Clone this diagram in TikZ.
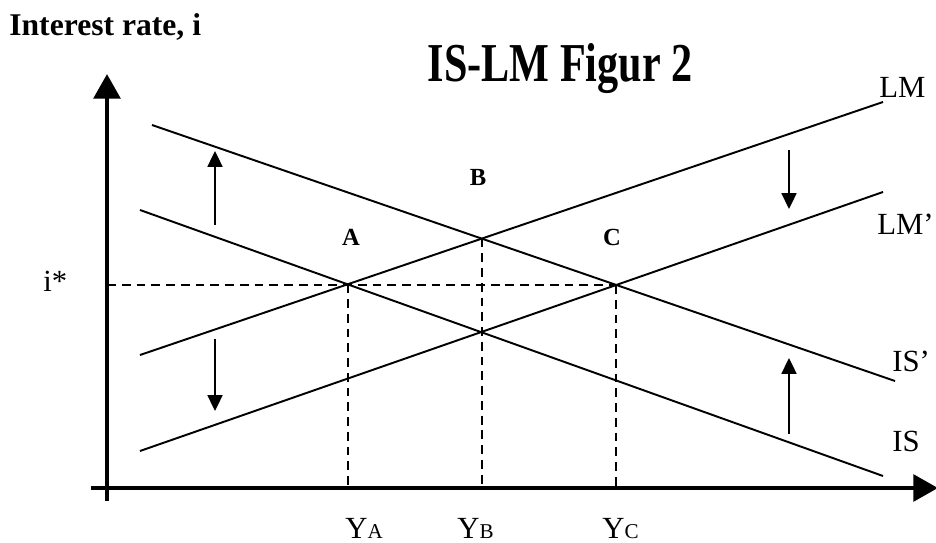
\documentclass[tikz,border=0pt]{standalone}
\usepackage{fontspec}
\setmainfont{Liberation Serif}
\usetikzlibrary{arrows.meta}

\begin{document}
\begin{tikzpicture}[x=0.02cm,y=-0.02cm,
  curveline/.style={line width=1.1pt},
  axisline/.style={line width=2.6pt,-{Triangle[length=14pt,width=15pt]}},
  movearrow/.style={line width=1.1pt,-{Triangle[length=9pt,width=8.5pt]}},
  guideline/.style={line width=1.1pt,dash pattern=on 5pt off 3.4pt},
  lbl/.style={font=\fontsize{17.5}{17.5}\selectfont,anchor=base west,inner sep=0pt},
  pointlbl/.style={font=\fontsize{14}{14}\selectfont\bfseries,anchor=base,inner sep=0pt}]
  \useasboundingbox (0,0) rectangle (936,543);

  % Titles
  \node[font=\fontsize{18}{18}\selectfont\bfseries,anchor=base west,inner sep=0pt] (ylab) at (9,36) {Interest rate, i};
  \node[font=\fontsize{24}{24}\selectfont\bfseries,anchor=base,inner sep=0pt] (title) at (560,82) {\scalebox{1}[1.3]{IS-LM Figur 2}};

  % Axes
  \coordinate (O) at (107,488);
  \draw[axisline] (107,501) -- (107,74);
  \draw[axisline] (91,488) -- (938,488);

  % Curves
  \coordinate (is1) at (140,210);   \coordinate (is2) at (883,476);
  \coordinate (isp1) at (152,125);  \coordinate (isp2) at (895,381);
  \coordinate (lm1) at (140,355);   \coordinate (lm2) at (883,102);
  \coordinate (lmp1) at (140,451);  \coordinate (lmp2) at (883,192);
  \draw[curveline] (is1) -- (is2);
  \draw[curveline] (isp1) -- (isp2);
  \draw[curveline] (lm1) -- (lm2);
  \draw[curveline] (lmp1) -- (lmp2);

  % Equilibria
  \coordinate (A) at (intersection of is1--is2 and lm1--lm2);
  \coordinate (B) at (intersection of isp1--isp2 and lm1--lm2);
  \coordinate (C) at (intersection of isp1--isp2 and lmp1--lmp2);

  % Guides
  \draw[guideline] (O |- C) -- (C);
  \draw[guideline] (A) -- (A |- O);
  \draw[guideline] (B) -- (B |- O);
  \draw[guideline] (C) -- (C |- O);

  % Shifts
  \draw[movearrow] (215,225) -- (215,151);
  \draw[movearrow] (215,339) -- (215,411);
  \draw[movearrow] (789,150) -- (789,209);
  \draw[movearrow] (789,434) -- (789,358);

  % Labels
  \node[lbl] (lLM) at (879,98) {LM};
  \node[lbl] (lLMp) at (877,235) {LM’};
  \node[lbl] (lISp) at (892,372) {IS’};
  \node[lbl] (lIS) at (892,452) {IS};
  \node[lbl] (istar) at (43,292) {i*};
  \node[pointlbl] (pA) at (351,246) {A};
  \node[pointlbl] (pB) at (478,186) {B};
  \node[pointlbl] (pC) at (612,246) {C};
  \node[lbl] (yA) at (345,538) {Y{\fontsize{12}{12}\selectfont A}};
  \node[lbl] (yB) at (457,538) {Y{\fontsize{12}{12}\selectfont B}};
  \node[lbl] (yC) at (602,538) {Y{\fontsize{12}{12}\selectfont C}};
\end{tikzpicture}
\end{document}
